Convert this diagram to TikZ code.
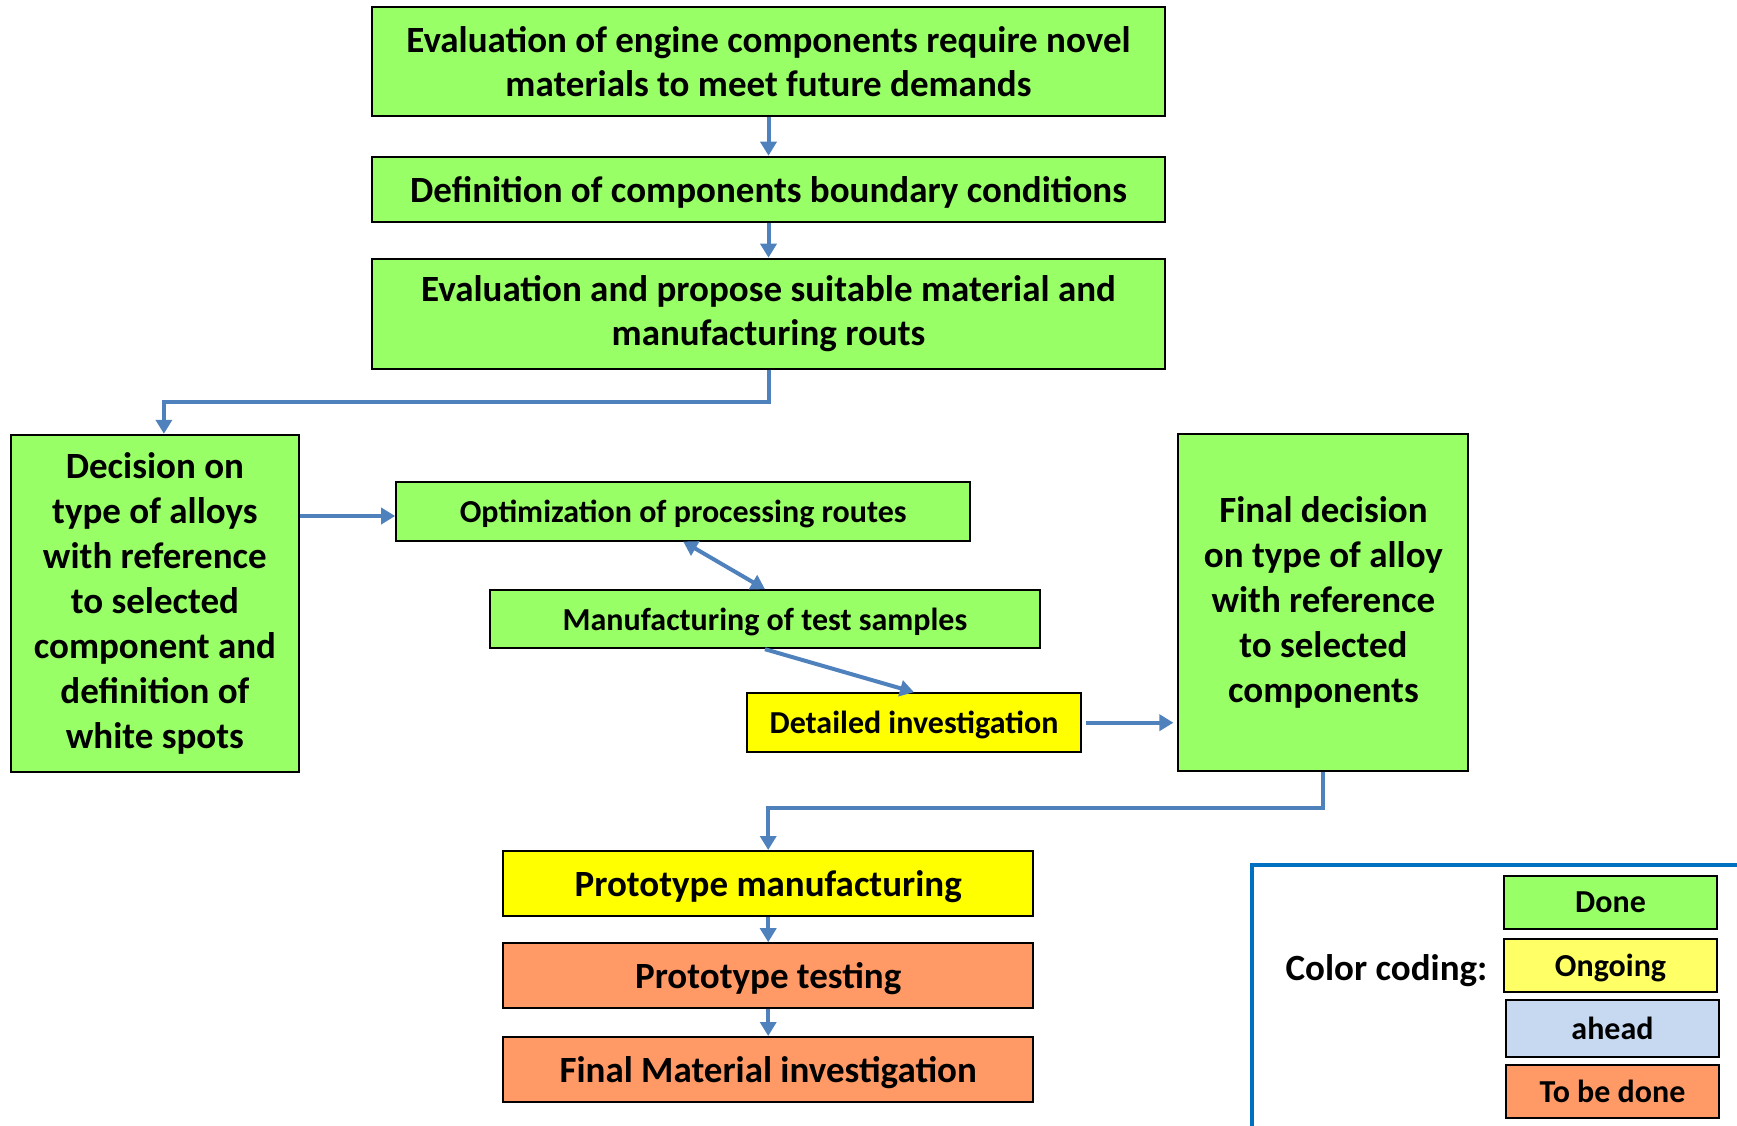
\documentclass[tikz,border=0pt]{standalone}
\usepackage{fontspec}
\setmainfont{Carlito}
\usepackage{tikz}
\usetikzlibrary{arrows.meta, positioning, calc}
\usepackage{xcolor}
\definecolor{donegreen}{RGB}{153,255,102}
\definecolor{ongoingyellow}{RGB}{255,255,0}
\definecolor{legendyellow}{RGB}{255,255,102}
\definecolor{aheadblue}{RGB}{198,217,241}
\definecolor{todoorange}{RGB}{255,153,102}
\definecolor{arrowblue}{RGB}{79,129,189}
\definecolor{frameblue}{RGB}{0,112,192}
\tikzset{
  base/.style={draw=black, line width=2pt, align=center, inner sep=0pt,
               font=\bfseries\fontsize{37}{44}\selectfont},
  done/.style    = {base, fill=donegreen},
  ongoing/.style = {base, fill=ongoingyellow},
  todo/.style    = {base, fill=todoorange},
  oneline/.style = {text depth=0pt},
  small/.style   = {oneline, font=\bfseries\fontsize{32}{38}\selectfont},
  arr/.style     = {-{Triangle[length=14pt, width=16pt]}, line width=4pt, color=arrowblue},
  darr/.style    = {{Triangle[length=14pt, width=16pt]}-{Triangle[length=14pt, width=16pt]},
                    line width=4pt, color=arrowblue},
}

\begin{document}
\begin{tikzpicture}[
  x=1pt, y=-1pt,
  key/.style={base, oneline, minimum width=213pt, minimum height=53pt,
              font=\bfseries\fontsize{32}{38}\selectfont},
  legendframe/.style={draw=frameblue, line width=4pt}
]
  \useasboundingbox (0,0) rectangle (1737,1125);

  % Main chain
  \node[done, minimum width=793pt, minimum height=109pt] (eval) at (768.5,61.8)
    {Evaluation of engine components require novel\\materials to meet future demands};
  \node[done, oneline, minimum width=793pt, minimum height=65pt] (bound) at (768.5,189.2)
    {Definition of components boundary conditions};
  \node[done, minimum width=793pt, minimum height=110pt] (propose) at (768.5,313.7)
    {Evaluation and propose suitable material and\\manufacturing routs};

  % Decisions
  \node[done, minimum width=288pt, minimum height=337pt, font=\bfseries\fontsize{37}{45}\selectfont]
    (decision) at (154.9,603.3)
    {Decision on\\type of alloys\\with reference\\to selected\\component and\\definition of\\white spots};
  \node[done, minimum width=290pt, minimum height=337pt, font=\bfseries\fontsize{37}{45}\selectfont]
    (final) at (1323.4,602.7)
    {Final decision\\on type of alloy\\with reference\\to selected\\components};

  % Middle steps
  \node[done, small, minimum width=574pt, minimum height=59pt] (optim) at (683.2,511)
    {Optimization of processing routes};
  \node[done, small, minimum width=550pt, minimum height=58pt] (samples) at (765,619.2)
    {Manufacturing of test samples};
  \node[ongoing, small, minimum width=334pt, minimum height=59pt] (detail) at (914,722.7)
    {Detailed investigation};

  % Prototype
  \node[ongoing, oneline, minimum width=530pt, minimum height=65pt] (protoman) at (768.2,883.5)
    {Prototype manufacturing};
  \node[todo, oneline, minimum width=530pt, minimum height=65pt] (prototest) at (768.2,975.7)
    {Prototype testing};
  \node[todo, oneline, minimum width=530pt, minimum height=65pt] (finalmat) at (768.2,1069.5)
    {Final Material investigation};

  % Arrows
  \draw[arr] (eval.south) -- (bound.north);
  \draw[arr] (bound.south) -- (propose.north);
  \draw[arr] (propose.south) -- ++(0,32) -| ([xshift=9pt]decision.north);
  \draw[arr] ([yshift=-5pt]decision.east |- optim.west) -- ([yshift=-5pt]optim.west);
  \draw[darr] (optim.south) -- (samples.north);
  \draw[arr] (samples.south) -- (detail.north);
  \draw[arr, shorten <=4pt, shorten >=4pt] (detail.east) -- (detail.east -| final.west);
  \draw[arr] (final.south) -- ++(0,36) -| (protoman.north);
  \draw[arr] (protoman.south) -- (prototest.north);
  \draw[arr] (prototest.south) -- (finalmat.north);

  % Legend
  \draw[legendframe] (1252,1140) |- (1760,865);
  \node[oneline, font=\bfseries\fontsize{37}{44}\selectfont] (coding) at (1386.5,968) {Color coding:};
  \node[key, fill=donegreen] (kdone) at (1610.5,902.5) {Done};
  \node[key, fill=legendyellow] (kongoing) at (1610.5,965.5) {Ongoing};
  \node[key, fill=aheadblue, minimum height=57pt] (kahead) at (1612.5,1028.5) {ahead};
  \node[key, fill=todoorange] (ktodo) at (1612.5,1091.5) {To be done};
\end{tikzpicture}
\end{document}
